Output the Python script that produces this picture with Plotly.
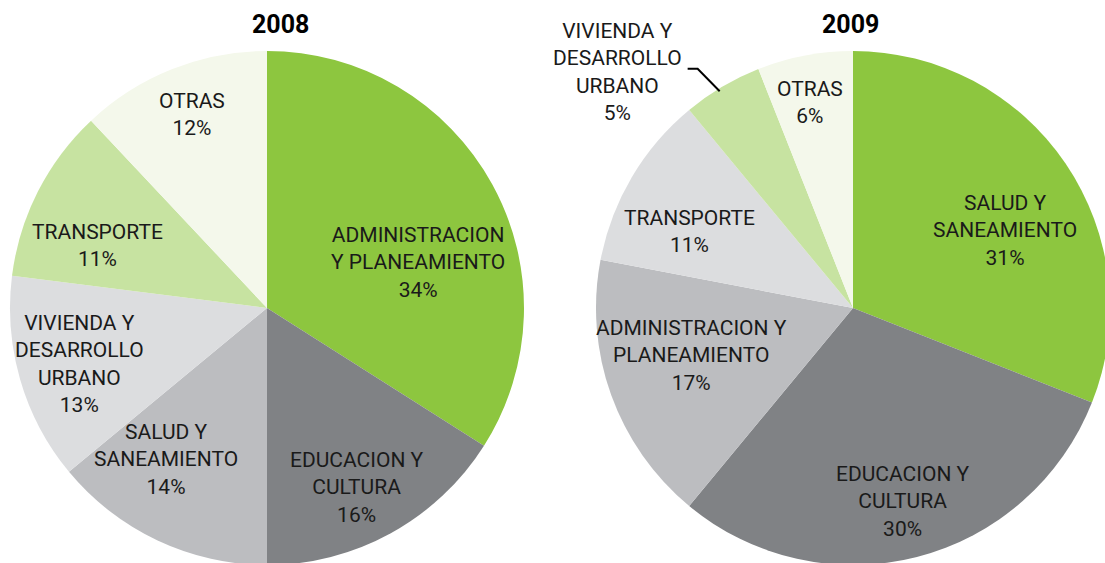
import numpy as np
import plotly.graph_objects as go

# data (clockwise from 12 o'clock)
labels_2008 = ["ADMINISTRACION<br>Y PLANEAMIENTO", "EDUCACION Y<br>CULTURA",
               "SALUD Y<br>SANEAMIENTO", "VIVIENDA Y<br>DESARROLLO<br>URBANO",
               "TRANSPORTE", "OTRAS"]
values_2008 = [34, 16, 14, 13, 11, 12]

labels_2009 = ["SALUD Y<br>SANEAMIENTO", "EDUCACION Y<br>CULTURA",
               "ADMINISTRACION Y<br>PLANEAMIENTO", "TRANSPORTE",
               "VIVIENDA Y<br>DESARROLLO<br>URBANO", "OTRAS"]
values_2009 = [31, 30, 17, 11, 5, 6]

slice_colors = ["#8DC63F", "#808285", "#BCBDC0", "#DCDDDF", "#C7E3A1", "#F4F8EB"]

# label placement: fraction of radius and angle nudge (deg) from slice bisector
lab_f08 = [0.614, 0.783, 0.710, 0.760, 0.702, 0.806]
lab_da08 = [11.9, 2.2, 8.4, -0.5, -6.6, 0.4]
lab_f09 = [0.663, 0.779, 0.653, 0.700, 1.296, 0.815]
lab_da09 = [7.3, -0.1, 3.5, -5.6, -14.3, -1.0]

W, H = 1112, 566
R = 257
FONT = "Roboto, Arial, sans-serif"


def px(x, y):
    return x / W, 1 - y / H


def polar(cx, cy, ang, r):
    a = np.deg2rad(ang)
    return cx + r * np.sin(a), cy - r * np.cos(a)


def mid_angles(values):
    v = np.array(values, dtype=float)
    cum = np.cumsum(v) - v / 2
    return cum / v.sum() * 360


fig = go.Figure()
annotations = []
shapes = []

pies = [
    ("2008", labels_2008, values_2008, lab_f08, lab_da08, 267, 308, 280),
    ("2009", labels_2009, values_2009, lab_f09, lab_da09, 853, 308, 850),
]

for year, labels, values, fr, da, cx, cy, tx in pies:
    x0, y1 = px(cx - R, cy - R)
    x1, y0 = px(cx + R, cy + R)
    fig.add_trace(go.Pie(
        labels=[l.replace("<br>", " ") for l in labels], values=values,
        sort=False, direction="clockwise", rotation=0,
        marker=dict(colors=slice_colors, line=dict(width=0)),
        textinfo="none", hoverinfo="label+percent", showlegend=False,
        domain=dict(x=[x0, x1], y=[y0, y1]), name=year,
    ))
    mids = mid_angles(values)
    for lab, v, m, f, d in zip(labels, values, mids, fr, da):
        lx, ly = polar(cx, cy, m + d, f * R)
        ax, ay = px(lx, ly)
        annotations.append(dict(
            x=ax, y=ay, xref="paper", yref="paper", showarrow=False,
            text=f"{lab}<br>{v}%", xanchor="center", yanchor="middle",
            font=dict(family=FONT, size=21, color="#1a1a1a"),
        ))
    tx_p, ty_p = px(tx, 25)
    annotations.append(dict(
        x=tx_p, y=ty_p, xref="paper", yref="paper", showarrow=False,
        text=f"<b>{year}</b>", xanchor="center", yanchor="middle",
        font=dict(family=FONT, size=25, color="#000000"),
    ))

# leader line for the small VIVIENDA slice in 2009
m09 = mid_angles(values_2009)[4]
ex, ey = polar(853, 308, m09 - 1, 0.99 * R)
kx, ky = polar(853, 308, m09 - 2.4, 1.11 * R)
sx, sy = kx - 10, ky
pts = [px(sx, sy), px(kx, ky), px(ex, ey)]
path = "M {} {} L {} {} L {} {}".format(*[c for p in pts for c in p])
shapes.append(dict(type="path", path=path, xref="paper", yref="paper",
                   line=dict(color="#000000", width=2)))

fig.update_layout(
    width=W, height=H,
    margin=dict(l=0, r=0, t=0, b=0),
    paper_bgcolor="white", plot_bgcolor="white",
    annotations=annotations, shapes=shapes,
)

fig.write_html("out.html", config={"displayModeBar": False},
               post_script="document.body.style.margin='0';document.body.style.overflow='hidden';")
